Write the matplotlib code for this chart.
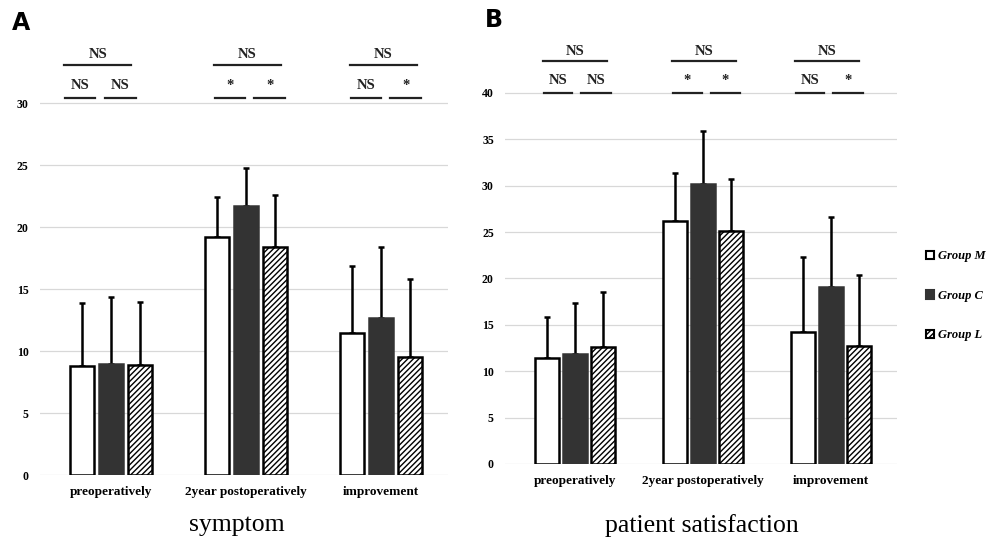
import matplotlib.pyplot as plt
import numpy as np
from matplotlib.patches import Patch

categories = ["preoperatively", "2year postoperatively", "improvement"]
groups = ["Group M", "Group C", "Group L"]

# symptom (panel A)
sym_mean = {"Group M": [8.8, 19.2, 11.5],
            "Group C": [9.0, 21.7, 12.7],
            "Group L": [8.9, 18.4, 9.5]}
sym_sd = {"Group M": [5.1, 3.2, 5.4],
          "Group C": [5.4, 3.1, 5.7],
          "Group L": [5.1, 4.2, 6.3]}

# patient satisfaction (panel B)
sat_mean = {"Group M": [11.4, 26.2, 14.2],
            "Group C": [11.9, 30.2, 19.1],
            "Group L": [12.6, 25.1, 12.7]}
sat_sd = {"Group M": [4.4, 5.2, 8.1],
          "Group C": [5.4, 5.7, 7.5],
          "Group L": [5.9, 5.6, 7.7]}

# significance: overall, M vs C, C vs L
sym_sig = [("NS", "NS", "NS"), ("NS", "*", "*"), ("NS", "NS", "*")]
sat_sig = [("NS", "NS", "NS"), ("NS", "*", "*"), ("NS", "NS", "*")]

serif = "Liberation Serif"
styles = {"Group M": dict(facecolor="white", edgecolor="black", hatch=None),
          "Group C": dict(facecolor="#333333", edgecolor="#333333", hatch=None),
          "Group L": dict(facecolor="white", edgecolor="black", hatch="//////")}

plt.rcParams["hatch.linewidth"] = 1.0

fig = plt.figure(figsize=(9.96, 5.43), dpi=100)
axA = fig.add_axes([0.040, 0.125, 0.410, 0.799])
axB = fig.add_axes([0.507, 0.1455, 0.394, 0.786])


def draw_panel(ax, means, sds, sig, ymax, ystep, width, offset, line_lo, line_hi, txt_lo, txt_hi, shifts):
    x = np.arange(len(categories))
    for i, g in enumerate(groups):
        pos = x + (i - 1) * offset
        st = styles[g]
        ax.bar(pos, means[g], width, facecolor=st["facecolor"], edgecolor=st["edgecolor"],
               hatch=st["hatch"], linewidth=1.8, zorder=3)
        ax.errorbar(pos, means[g], yerr=[np.zeros(3), sds[g]], fmt="none", ecolor="black",
                    elinewidth=1.8, capsize=2, capthick=1.8, zorder=2)
    ax.set_ylim(0, ymax)
    ax.set_yticks(np.arange(0, line_lo + 0.1, ystep))
    ax.set_xticks(x)
    ax.set_xticklabels(categories, fontfamily=serif, fontweight="bold", fontsize=9.5)
    for lab in ax.get_yticklabels():
        lab.set_fontfamily(serif)
        lab.set_fontweight("bold")
        lab.set_fontsize(8.5)
    ax.tick_params(length=0, pad=8)
    ax.grid(axis="y", color="#d8d8d8", linewidth=0.9, zorder=0)
    for s in ax.spines.values():
        s.set_visible(False)

    for j, (top, left, right) in enumerate(sig):
        c = x[j] + shifts[j]
        kw = dict(color="#222222", linewidth=1.6, clip_on=False)
        ax.plot([c - 0.25, c + 0.25], [line_hi, line_hi], **kw)
        ax.plot([c - 0.24, c - 0.02], [line_lo, line_lo], **kw)
        ax.plot([c + 0.05, c + 0.28], [line_lo, line_lo], **kw)
        tkw = dict(ha="center", va="bottom", fontfamily=serif, fontweight="bold",
                   fontsize=10.5, color="#222222", clip_on=False)
        ax.text(c, txt_hi, top, **tkw)
        ax.text(c - 0.13, txt_lo, left, **tkw)
        ax.text(c + 0.165, txt_lo, right, **tkw)


draw_panel(axA, sym_mean, sym_sd, sym_sig, 35, 5, 0.178, 0.215,
           30.4, 33.1, 30.9, 33.4, [-0.1, 0.01, 0.02])
axA.set_xlim(-0.53, 2.5)

draw_panel(axB, sat_mean, sat_sd, sat_sig, 46, 5, 0.1875, 0.22,
           40.0, 43.4, 40.6, 43.8, [0.0, 0.01, -0.03])
axB.set_xlim(-0.547, 2.52)

fig.text(0.238, 0.033, "symptom", ha="center", va="center", fontfamily=serif, fontsize=18.5)
fig.text(0.705, 0.033, "patient satisfaction", ha="center", va="center", fontfamily=serif, fontsize=18.5)

fig.text(0.012, 0.945, "A", fontweight="bold", fontsize=17, fontfamily="DejaVu Sans")
fig.text(0.487, 0.95, "B", fontweight="bold", fontsize=17, fontfamily="DejaVu Sans")

handles = [Patch(facecolor=styles[g]["facecolor"], edgecolor=styles[g]["edgecolor"],
                 hatch=styles[g]["hatch"], linewidth=1.5) for g in groups]
fig.legend(handles, groups, loc="center left", bbox_to_anchor=(0.918, 0.455), frameon=False,
           handlelength=0.7, handleheight=0.7, handletextpad=0.3, labelspacing=2.2,
           prop=dict(family=serif, style="italic", weight="bold", size=9))

fig.savefig("out.png", dpi=100)
